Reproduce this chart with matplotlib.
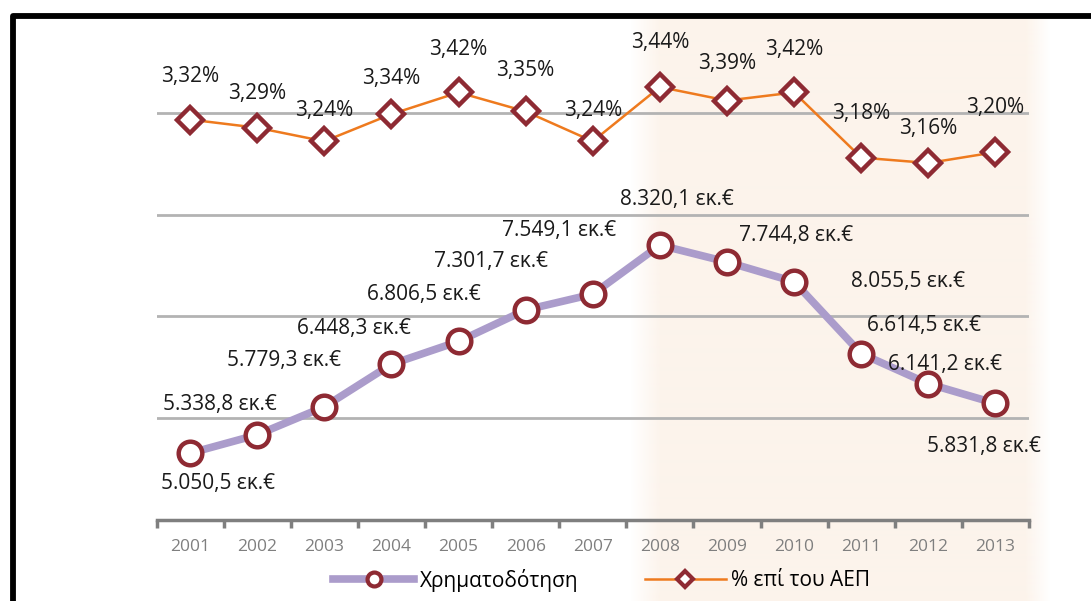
import numpy as np
import matplotlib
matplotlib.use("Agg")
import matplotlib.pyplot as plt
from matplotlib.lines import Line2D

plt.rcParams.update({
    "font.family": ["Open Sans", "DejaVu Sans"],
    "font.size": 15,
})

years = ["2001", "2002", "2003", "2004", "2005", "2006", "2007",
         "2008", "2009", "2010", "2011", "2012", "2013"]
funding = [5050.5, 5338.8, 5779.3, 6448.3, 6806.5, 7301.7, 7549.1,
           8320.1, 8055.5, 7744.8, 6614.5, 6141.2, 5831.8]
gdp_pct = [3.32, 3.29, 3.24, 3.34, 3.42, 3.35, 3.24,
           3.44, 3.39, 3.42, 3.18, 3.16, 3.20]
# labels as printed on the original (2009/2010 text is swapped there)
funding_labels = ["5.050,5 εκ.€", "5.338,8 εκ.€", "5.779,3 εκ.€", "6.448,3 εκ.€",
                  "6.806,5 εκ.€", "7.301,7 εκ.€", "7.549,1 εκ.€", "8.320,1 εκ.€",
                  "7.744,8 εκ.€", "8.055,5 εκ.€", "6.614,5 εκ.€", "6.141,2 εκ.€",
                  "5.831,8 εκ.€"]
pct_labels = ["3,32%", "3,29%", "3,24%", "3,34%", "3,42%", "3,35%", "3,24%",
              "3,44%", "3,39%", "3,42%", "3,18%", "3,16%", "3,20%"]

# label offsets (points)
fund_offsets = [(20, -22), (-27, 22), (-29, 33), (-27, 26), (-25, 34), (-25, 35),
                (-24, 46), (12, 33), (50, 19), (82, 0), (45, 20), (12, 14),
                (-8, -31)]
pct_offsets = [31, 25, 22, 26, 31, 29.5, 22, 32, 26.5, 31, 32, 25, 32]

PURPLE = "#AB9CCB"
ORANGE = "#EE7A1E"
DARKRED = "#8E2A33"
GRID = "#B3B3B3"
AXIS = "#7F7F7F"

W, H = 1091, 601
fig = plt.figure(figsize=(W / 100, H / 100), dpi=100)

# background: soft peach band behind 2008-2013 and the frame
bg = fig.add_axes([0, 0, 1, 1], zorder=0)
bg.set_xlim(0, W)
bg.set_ylim(H, 0)
bg.axis("off")
xs = np.arange(W)
ramp = np.clip((xs - 630) / 30, 0, 1) * np.clip((1050 - xs) / 25, 0, 1)
img = np.ones((1, W, 4))
img[..., 0] = 252 / 255
img[..., 1] = 241 / 255
img[..., 2] = 231 / 255
img[..., 3] = ramp * 0.8
bg.imshow(img, extent=(0, W, H, 16), aspect="auto", interpolation="bilinear")
bg.add_line(Line2D([13, 13, W + 5], [H + 5, 16, 16], color="black", lw=4.2,
                   solid_joinstyle="round", solid_capstyle="round"))

ax = fig.add_axes([156.5 / W, 1 - 520 / H, (1029 - 156.5) / W, 509 / H], zorder=1)
ax.patch.set_alpha(0)
x = np.arange(len(years))

ax.plot(x, funding, color=PURPLE, lw=5.5, marker="o", ms=17, mfc="white",
        mec=DARKRED, mew=3.2, zorder=3)
for xi, v, t, off in zip(x, funding, funding_labels, fund_offsets):
    ax.annotate(t, (xi, v), xytext=off, textcoords="offset points",
                ha="center", va="center", fontsize=15, color="#1A1A1A")

ax2 = ax.twinx()
ax2.set_ylim(1.845, 3.72)
ax2.axis("off")
ax2.plot(x, gdp_pct, color=ORANGE, lw=1.8, marker="D", ms=13, mfc="white",
         mec=DARKRED, mew=3.2, zorder=3)
for xi, v, t, dy in zip(x, gdp_pct, pct_labels, pct_offsets):
    ax2.annotate(t, (xi, v), xytext=(0, dy), textcoords="offset points",
                 ha="center", va="center", fontsize=15, color="#1A1A1A")

ax.set_xlim(-0.5, len(years) - 0.5)
ax.set_ylim(4000, 12000)
ax.set_yticks(np.arange(5600, 12000, 1600))
ax.grid(axis="y", color=GRID, lw=2)
ax.tick_params(axis="y", left=False, right=False, labelleft=False)
for s in ["top", "right", "left"]:
    ax.spines[s].set_visible(False)
ax.spines["bottom"].set_color(AXIS)
ax.spines["bottom"].set_linewidth(2.5)
ax.set_xticks(x)
ax.set_xticklabels(years, color=AXIS, fontsize=12.5)
ax.set_xticks(np.arange(-0.5, len(years), 1), minor=True)
ax.tick_params(axis="x", which="major", length=0, pad=14)
ax.tick_params(axis="x", which="minor", length=6, width=2.5, color=AXIS,
               direction="out")

h1 = Line2D([], [], color=PURPLE, lw=5.5, marker="o", ms=10, mfc="white",
            mec=DARKRED, mew=3)
h2 = Line2D([], [], color=ORANGE, lw=1.8, marker="D", ms=8, mfc="white",
            mec=DARKRED, mew=3)
fig.legend([h1, h2], ["Χρηματοδότηση", "% επί του ΑΕΠ"], loc="center left",
           bbox_to_anchor=(333 / W, 1 - 580 / H), ncol=2, frameon=False,
           fontsize=15, handlelength=3.9, columnspacing=3.2, handletextpad=0.25,
           borderpad=0, borderaxespad=0)

fig.savefig("out.png", dpi=100, facecolor="white")
